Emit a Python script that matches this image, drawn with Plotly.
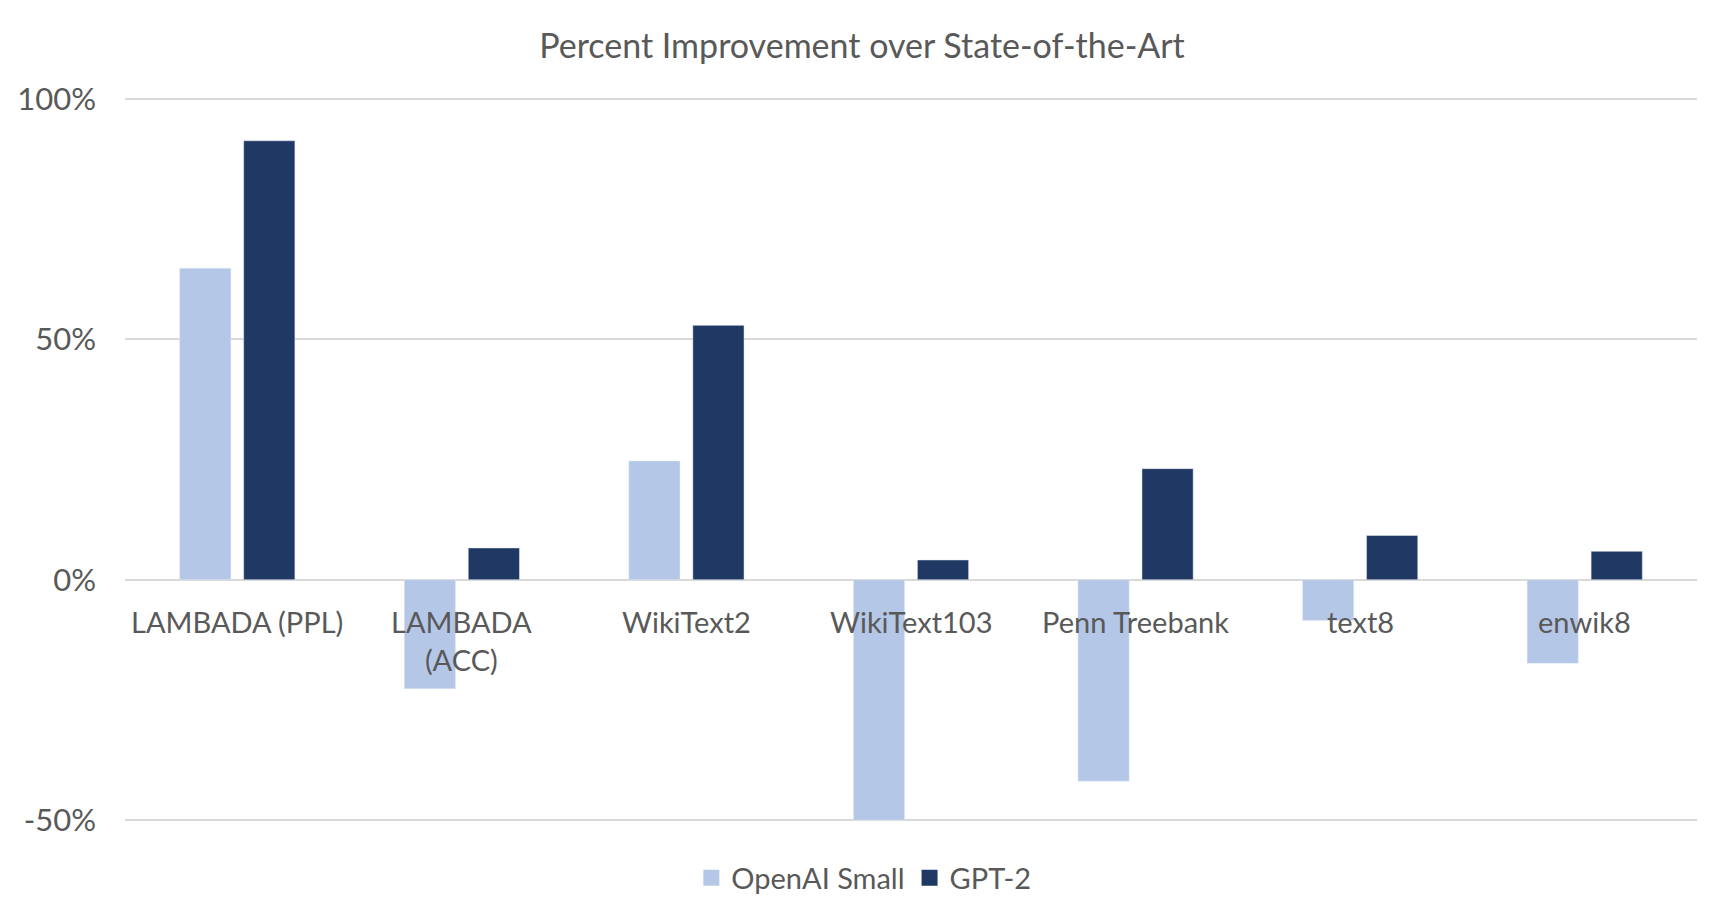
import plotly.graph_objects as go

categories = ["LAMBADA (PPL)", "LAMBADA (ACC)", "WikiText2", "WikiText103", "Penn Treebank", "text8", "enwik8"]
tick_labels = ["LAMBADA (PPL)", "LAMBADA<br>(ACC)", "WikiText2", "WikiText103", "Penn Treebank", "text8", "enwik8"]
openai_small = [64.8, -22.7, 24.7, -50.0, -41.9, -8.5, -17.4]
gpt2 = [91.3, 6.6, 52.9, 4.1, 23.1, 9.2, 5.9]
y_ticks = [-50, 0, 50, 100]
y_tick_text = ["-50%", "0%", "50%", "100%"]
series_names = ["OpenAI Small", "GPT-2"]
series_colors = ["#B4C7E7", "#203864"]

FONT = "Lato, 'Open Sans', sans-serif"
GRAY = "#595959"

fig = go.Figure()
for name, vals, col in zip(series_names, [openai_small, gpt2], series_colors):
    fig.add_trace(go.Bar(name=name, x=categories, y=vals, marker_color=col, showlegend=False))
for name, col in zip(series_names, series_colors):
    fig.add_trace(go.Scatter(name=name, x=[None], y=[None], mode="markers",
                             marker=dict(symbol="square", size=18, color=col)))

for c, t in zip(categories, tick_labels):
    fig.add_annotation(x=c, y=0, xref="x", yref="y", text=t, showarrow=False,
                       yanchor="top", yshift=-22, font=dict(family=FONT, size=29, color=GRAY))

# body has an 8px default margin in the page, so the figure is sized to fit the window
fig.update_layout(
    width=1708, height=907,
    margin=dict(l=117, r=19, t=89, b=91),
    paper_bgcolor="white", plot_bgcolor="white",
    barmode="group", bargap=0.43, bargroupgap=0.2,
    title=dict(text="Percent Improvement over State-of-the-Art", x=0.5, xanchor="center",
               y=0.958, yanchor="middle", font=dict(family=FONT, size=34, color=GRAY)),
    legend=dict(orientation="h", x=0.47, xanchor="center", y=-0.077, yanchor="middle",
                font=dict(family=FONT, size=29, color=GRAY), itemwidth=30,
                traceorder="normal"),
    xaxis=dict(showticklabels=False, showgrid=False, showline=False, zeroline=False,
               automargin=False),
    yaxis=dict(range=[-50.4, 100.4], tickvals=y_ticks, ticktext=y_tick_text, showgrid=True,
               gridcolor="#D9D9D9", gridwidth=1.5, zeroline=True, zerolinecolor="#D9D9D9",
               zerolinewidth=2, tickfont=dict(family=FONT, size=31, color=GRAY),
               ticklabelstandoff=28, automargin=False),
)

fig.write_html("out.html")
